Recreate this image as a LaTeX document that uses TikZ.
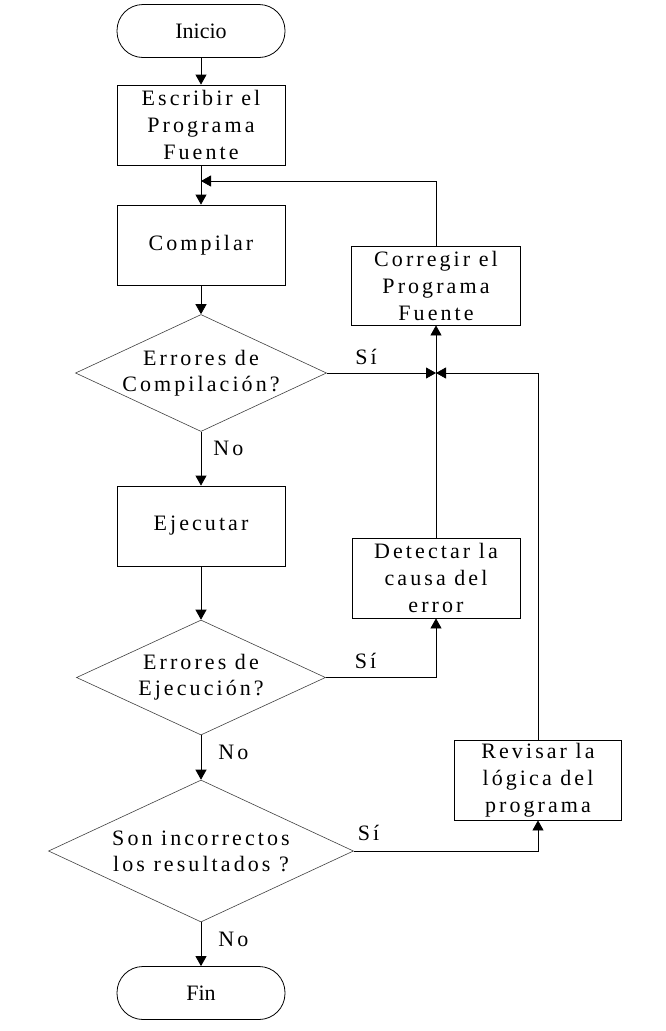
\documentclass[tikz,border=0pt]{standalone}
\usepackage{fontspec}
\setmainfont{Liberation Serif}
\newfontfamily\wide[LetterSpace=14]{Liberation Serif}
\usetikzlibrary{shapes.geometric,arrows.meta}

\tikzset{
  flow/.style={-{Triangle[length=10pt,width=11pt]}, line width=0.8pt},
  stepbox/.style={draw, line width=0.8pt, minimum width=168pt, minimum height=80pt,
    inner sep=0pt, align=center, font=\fontsize{22}{27}\wide},
  term/.style={draw, line width=0.8pt, rounded corners=26pt, minimum width=168pt,
    minimum height=53pt, font=\fontsize{22}{27}\selectfont},
  decision/.style={draw=black!75, diamond, line width=0.6pt, inner xsep=-35pt,
    inner ysep=-22pt, align=center, font=\fontsize{22}{26}\wide},
  tag/.style={font=\fontsize{22}{27}\wide, inner sep=0pt}
}

\begin{document}
\begin{tikzpicture}[x=1pt, y=-1pt]
    \useasboundingbox (0,0) rectangle (666,1031);
    % main column
    \node[term] (inicio) at (201,31) {Inicio};
    \node[stepbox] (escribir) at (201,125) {Escribir el\\Programa\\Fuente};
    \node[stepbox] (compilar) at (201,245) {Compilar};
    \node[decision, minimum width=251pt, minimum height=117pt] (errcomp) at (201,373) {Errores de\\Compilación?};
    \node[stepbox] (ejecutar) at (201,526) {Ejecutar};
    \node[decision, minimum width=249pt, minimum height=115pt] (errejec) at (201,677.5) {Errores de\\Ejecución?};
    \node[decision, minimum width=305pt, minimum height=142pt] (incorrect) at (201,851) {Son incorrectos\\los resultados ?};
    \node[term] (fin) at (201,993) {Fin};
    % side column
    \node[stepbox, minimum width=169pt, minimum height=79pt] (corregir) at (436,285.5) {Corregir el\\Programa\\Fuente};
    \node[stepbox] (detectar) at (436,578) {Detectar la\\causa del\\error};
    \node[stepbox, minimum width=167pt] (revisar) at (538,780) {Revisar la\\lógica del\\programa};
    \coordinate (join) at (201,181);
    \coordinate (meet) at (436,373);
    % connectors
    \draw[flow] (inicio) -- (escribir);
    \draw[line width=0.8pt] (escribir) -- (join);
    \draw[flow] (join) -- (compilar);
    \draw[flow] (corregir.north) |- (join);
    \draw[flow] (compilar) -- (errcomp);
    \draw[flow] (errcomp.east) -- node[tag, above=8pt, pos=0.36] {Sí} (meet);
    \draw[flow] (revisar.north) |- (meet);
    \draw[flow] (detectar.north) -- (corregir.south);
    \draw[flow] (errcomp.south) -- node[tag, right=12pt, pos=0.31] {No} (ejecutar);
    \draw[flow] (ejecutar) -- (errejec);
    \draw[flow] (errejec.east) -| node[tag, above=8pt, pos=0.18] {Sí} (detectar.south);
    \draw[flow] (errejec.south) -- node[tag, right=17pt, pos=0.38] {No} (incorrect);
    \draw[flow] (incorrect.east) -| node[tag, above=10pt, pos=0.04] {Sí} (revisar.south);
    \draw[flow] (incorrect.south) -- node[tag, right=17pt, pos=0.4] {No} (fin);
\end{tikzpicture}
\end{document}
